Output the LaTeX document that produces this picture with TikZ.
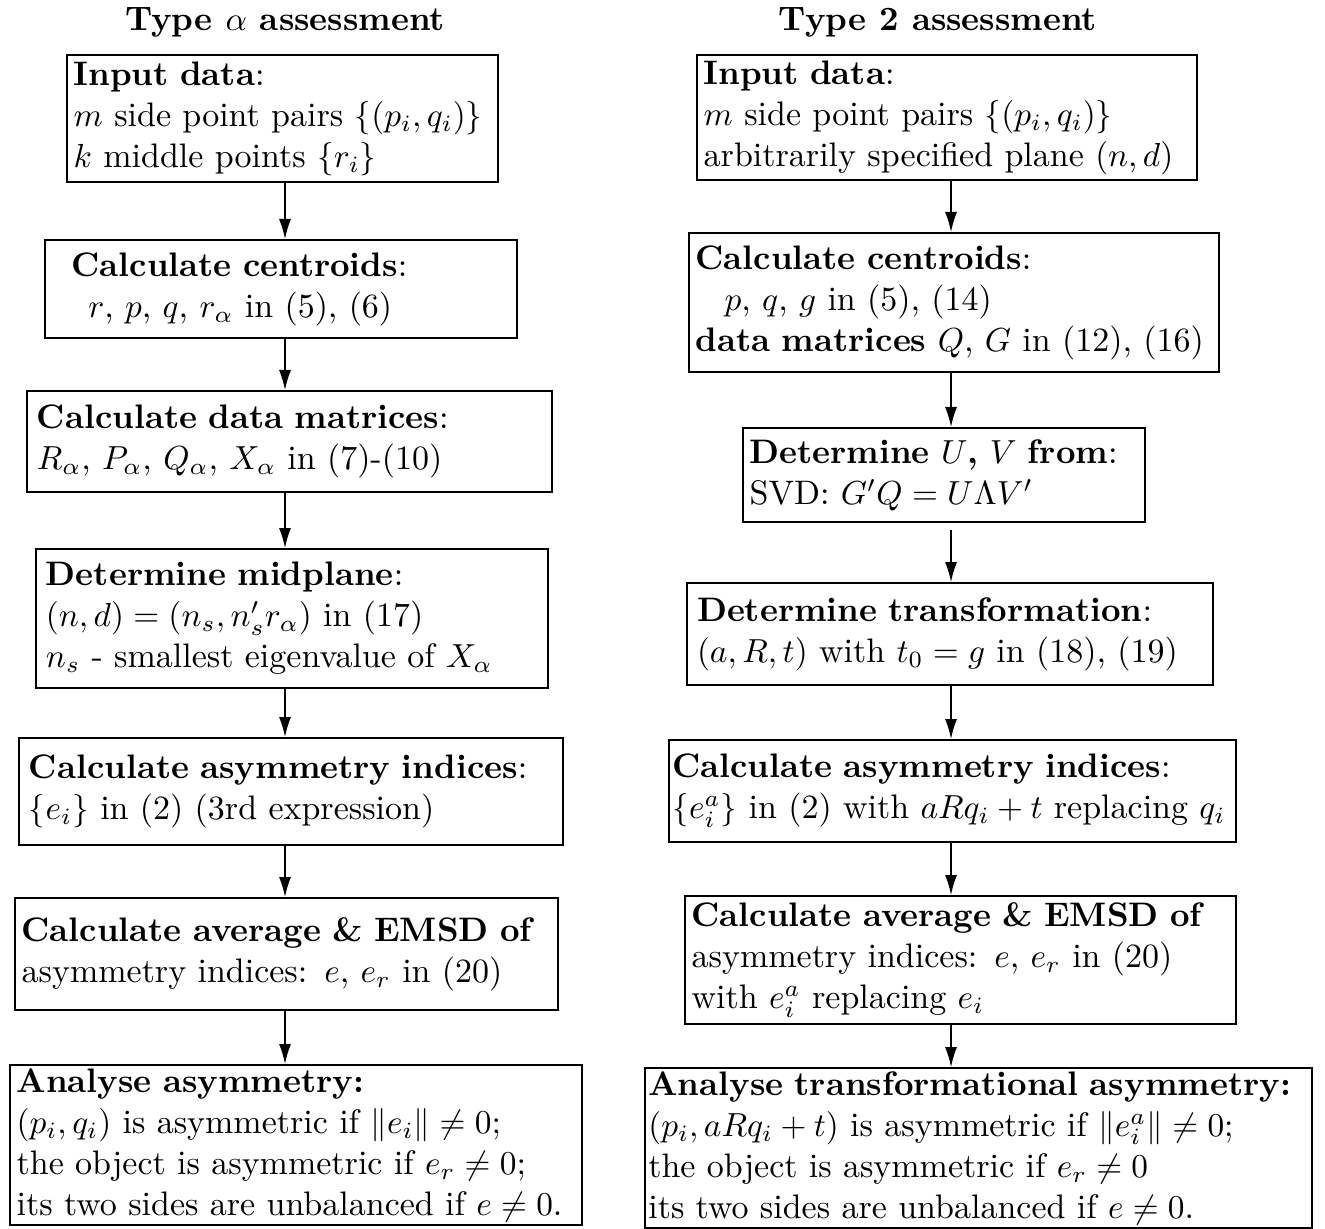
\documentclass[tikz,border=0pt]{standalone}
\usepackage{amssymb,amsmath}
\usepackage{tikz}
\usetikzlibrary{shapes,arrows,arrows.meta}
\usetikzlibrary{positioning}
\newcommand{\boxfont}{\fontsize{10.2pt}{12.3pt}\selectfont}
\tikzstyle{block} = [rectangle, draw, semithick, align=left,
    inner xsep=2pt, inner ysep=1pt, font=\boxfont]
\tikzstyle{heading} = [font=\boxfont\bfseries, inner sep=0pt]
\tikzstyle{line} = [draw, -{Latex[length=6pt,width=3.6pt]}]

\begin{document}
\begin{tikzpicture}[auto]
    \useasboundingbox (0,0) rectangle (397.5pt,-368.4pt);
    % Headings
    \node[heading] (typeA) at (85.5pt,-6.6pt) {Type $\alpha$ assessment};
    \node[heading] (typeB) at (281.4pt,-6.6pt) {Type 2 assessment};
    \coordinate (colA) at (85.5pt,0);
    \coordinate (colB) at (285.3pt,0);
    % Place nodes: type alpha
    \node[block, text width=125.3pt, minimum height=38.1pt] (inA) at (84.75pt,-35.55pt)
        {\textbf{Input data}:\\ $m$ side point pairs $\{(p_i,q_i)\}$\\ $k$ middle points $\{r_i\}$};
    \node[block, text width=137.6pt, minimum height=29.4pt] (cenA) at (84.3pt,-86.7pt)
        {\hspace*{6pt}\textbf{Calculate centroids}:\\ \hspace*{11pt}$r$, $p$, $q$, $r_\alpha$ in (5), (6)};
    \node[block, text width=153.5pt, minimum height=30.3pt] (matA) at (86.85pt,-132.45pt)
        {\hspace*{1pt}\textbf{Calculate data matrices}:\\ \hspace*{1pt}$R_\alpha$, $P_\alpha$, $Q_\alpha$, $X_\alpha$ in (7)-(10)};
    \node[block, text width=149.6pt, minimum height=41.7pt] (midA) at (87.6pt,-185.55pt)
        {\hspace*{1pt}\textbf{Determine midplane}:\\ \hspace*{1pt}$(n,d)=(n_s,n_s'r_\alpha)$ in (17)\\
         \hspace*{1pt}$n_s$ - smallest eigenvalue of $X_\alpha$};
    \node[block, text width=159.2pt, minimum height=32.1pt] (idxA) at (87.3pt,-237.45pt)
        {\hspace*{1pt}\textbf{Calculate asymmetry indices}:\\ \hspace*{1pt}$\{e_i\}$ in (2) (3rd expression)};
    \node[block, text width=158.9pt, minimum height=33.6pt] (avgA) at (85.95pt,-286.2pt)
        {\textbf{Calculate average \& EMSD of}\\ asymmetry indices: $e$, $e_r$ in (20)};
    \node[block, text width=167.6pt, minimum height=48pt] (anaA) at (88.8pt,-343.5pt)
        {\textbf{Analyse asymmetry:}\\ $(p_i,q_i)$ is asymmetric if $\|e_i\|\neq 0$;\\
         the object is asymmetric if $e_r\neq 0$;\\ its two sides are unbalanced if $e\neq 0$.};
    % Place nodes: type 2
    \node[block, text width=146pt, minimum height=37.5pt] (inB) at (284.1pt,-35.25pt)
        {\textbf{Input data}:\\ $m$ side point pairs $\{(p_i,q_i)\}$\\ arbitrarily specified plane $(n,d)$};
    \node[block, text width=155pt, minimum height=41.7pt] (cenB) at (286.2pt,-90.75pt)
        {\textbf{Calculate centroids}:\\ \hspace*{8.7pt}$p$, $q$, $g$ in (5), (14)\\
         \textbf{data matrices} $Q$, $G$ in (12), (16)};
    \node[block, text width=116.6pt, minimum height=28.2pt] (svdB) at (283.2pt,-142.5pt)
        {\textbf{Determine} $U$\textbf{,} $V$ \textbf{from}:\\ SVD: $G'Q=U\Lambda V'$};
    \node[block, text width=153.8pt, minimum height=30.6pt] (traB) at (285pt,-190.2pt)
        {\hspace*{1pt}\textbf{Determine transformation}:\\ \hspace*{1pt}$(a,R,t)$ with $t_0=g$ in (18), (19)};
    \node[block, text width=168.1pt, minimum height=30.6pt, inner xsep=1pt] (idxB) at (285.75pt,-237.3pt)
        {\textbf{Calculate asymmetry indices}:\\ $\{e_i^a\}$ in (2) with $aRq_i+t$ replacing $q_i$};
    \node[block, text width=161.3pt, minimum height=38.4pt] (avgB) at (288.15pt,-288pt)
        {\textbf{Calculate average \& EMSD of}\\ asymmetry indices: $e$, $e_r$ in (20)\\
         with $e_i^a$ replacing $e_i$};
    \node[block, text width=198.1pt, minimum height=46.8pt, inner xsep=1pt] (anaB) at (293.55pt,-344.4pt)
        {\textbf{Analyse transformational asymmetry:}\\ $(p_i,aRq_i+t)$ is asymmetric if $\|e_i^a\|\neq 0$;\\
         the object is asymmetric if $e_r\neq 0$\\ its two sides are unbalanced if $e\neq 0$.};
    % Draw edges
    \path [line] (inA.south -| colA) -- (cenA.north -| colA);
    \path [line] (cenA.south -| colA) -- (matA.north -| colA);
    \path [line] (matA.south -| colA) -- (midA.north -| colA);
    \path [line] (midA.south -| colA) -- (idxA.north -| colA);
    \path [line] (idxA.south -| colA) -- (avgA.north -| colA);
    \path [line] (avgA.south -| colA) -- (anaA.north -| colA);
    \path [line] (inB.south -| colB) -- (cenB.north -| colB);
    \path [line] (cenB.south -| colB) -- (svdB.north -| colB);
    \path [line] ([yshift=-2pt]svdB.south -| colB) -- (traB.north -| colB);
    \path [line] (traB.south -| colB) -- (idxB.north -| colB);
    \path [line] (idxB.south -| colB) -- (avgB.north -| colB);
    \path [line] (avgB.south -| colB) -- (anaB.north -| colB);
\end{tikzpicture}
\end{document}
